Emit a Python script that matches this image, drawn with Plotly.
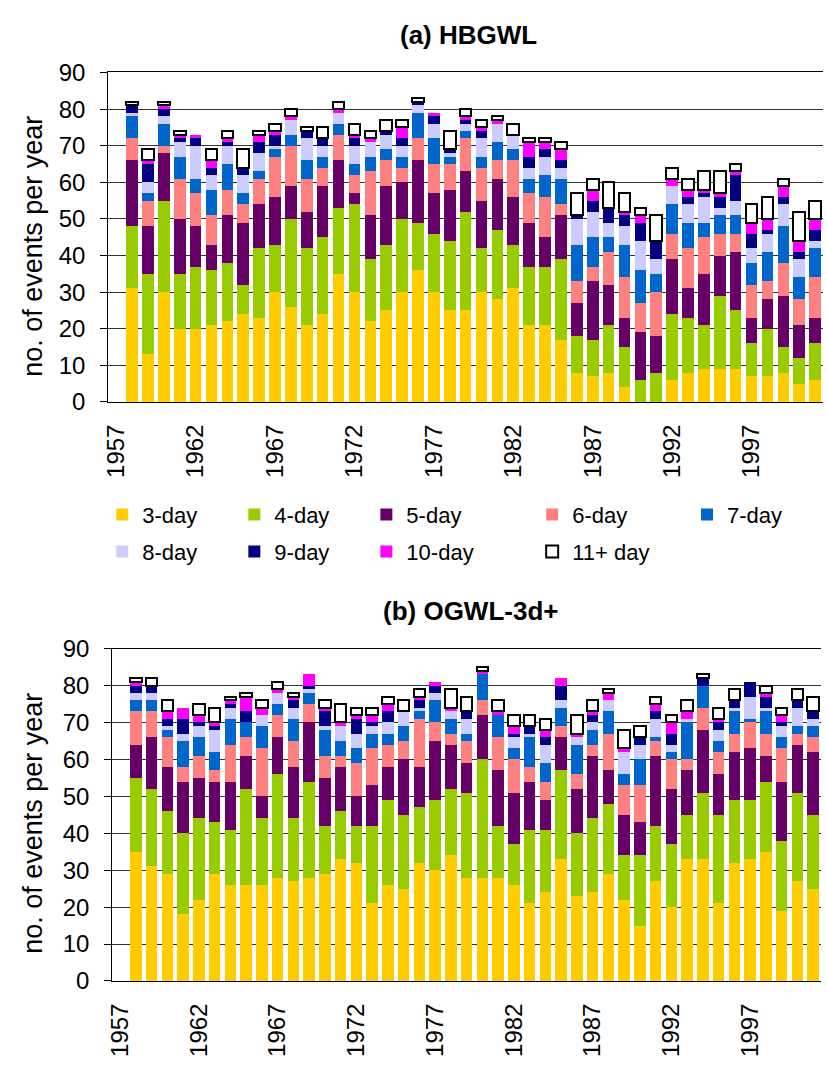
import plotly.graph_objects as go

# ---- categories -------------------------------------------------------------
years = list(range(1958, 2002))          # bars; the 1957 slot stays empty
tick_years = [1957, 1962, 1967, 1972, 1977, 1982, 1987, 1992, 1997]
y_ticks = list(range(0, 91, 10))

series_names = ["3-day", "4-day", "5-day", "6-day", "7-day",
                "8-day", "9-day", "10-day", "11+ day"]
series_colors = ["#FFCC00", "#99CC00", "#660066", "#FF8080", "#0066CC",
                 "#CCCCFF", "#000080", "#FF00FF", "#FFFFFF"]

# ---- (a) HBGWL: events per year by duration (1958-2001) ----------------------
hb_3day = [31, 13, 30, 20, 20, 21, 22, 24, 23, 30, 26, 21, 24, 35, 30, 22, 25, 30, 36, 30,
           25, 25, 30, 28, 31, 21, 21, 17, 8, 7, 8, 4, 0, 0, 6, 8, 9, 9, 9, 7, 7, 8, 5, 6]
hb_4day = [17, 22, 25, 15, 17, 15, 16, 8, 19, 13, 24, 21, 21, 18, 24, 17, 18, 20, 13, 16,
           19, 27, 12, 19, 12, 16, 16, 22, 10, 10, 13, 11, 6, 8, 18, 15, 12, 20, 16, 9, 13, 7, 7, 10]
hb_5day = [18, 13, 13, 15, 11, 7, 13, 17, 12, 13, 9, 10, 14, 13, 3, 12, 16, 10, 17, 11,
           14, 11, 13, 14, 13, 12, 8, 12, 9, 16, 11, 8, 13, 10, 15, 8, 14, 11, 16, 7, 8, 14, 9, 7]
hb_6day = [6, 7, 2, 11, 9, 8, 7, 5, 7, 11, 11, 9, 5, 7, 5, 12, 7, 4, 6, 8,
           7, 9, 9, 5, 10, 8, 11, 3, 6, 4, 9, 11, 8, 12, 7, 11, 10, 6, 5, 9, 5, 9, 7, 11]
hb_7day = [6, 2, 6, 6, 4, 7, 7, 3, 2, 2, 3, 5, 3, 3, 3, 4, 3, 3, 7, 7,
           2, 2, 3, 5, 3, 4, 6, 7, 10, 8, 4, 9, 9, 5, 8, 7, 4, 5, 5, 6, 8, 10, 6, 8]
hb_8day = [1, 3, 2, 4, 9, 4, 5, 5, 5, 1, 4, 6, 3, 3, 5, 4, 4, 3, 2, 4,
           1, 2, 5, 5, 4, 3, 5, 3, 7, 7, 4, 5, 8, 4, 5, 5, 7, 2, 4, 4, 5, 6, 5, 2]
hb_9day = [2, 5, 2, 1, 2, 2, 1, 2, 3, 3, 0, 2, 2, 0, 2, 0, 1, 2, 1, 2,
           1, 1, 2, 0, 0, 3, 2, 2, 1, 3, 4, 3, 5, 5, 0, 2, 1, 3, 7, 4, 1, 2, 2, 3]
hb_10day = [0, 1, 1, 1, 1, 2, 1, 0, 2, 1, 1, 0, 0, 1, 1, 1, 0, 3, 0, 1,
            0, 1, 1, 1, 0, 4, 2, 3, 0, 3, 0, 1, 2, 0, 2, 2, 1, 1, 1, 3, 3, 3, 3, 3]
hb_11day = [1, 3, 1, 1, 0, 3, 2, 5, 1, 2, 2, 1, 3, 2, 3, 2, 3, 2, 1, 0,
            5, 2, 2, 1, 3, 1, 1, 2, 6, 3, 7, 5, 2, 7, 3, 3, 5, 6, 2, 5, 6, 2, 8, 5]

# ---- (b) OGWL-3d+: events per year by duration (1958-2001) -------------------
og_3day = [35, 31, 29, 18, 22, 29, 26, 26, 26, 28, 27, 28, 29, 33, 32, 21, 26, 25, 32, 30,
           34, 28, 28, 28, 26, 21, 24, 33, 23, 24, 29, 22, 15, 27, 20, 33, 33, 21, 32, 33, 35, 19, 27, 25]
og_4day = [20, 21, 17, 22, 22, 14, 15, 26, 18, 28, 17, 26, 13, 13, 10, 21, 23, 20, 15, 19,
           18, 23, 32, 14, 11, 20, 17, 24, 17, 20, 19, 12, 19, 15, 17, 12, 18, 24, 17, 16, 19, 19, 24, 20]
og_5day = [9, 14, 12, 14, 11, 11, 13, 9, 6, 10, 14, 16, 13, 12, 8, 11, 9, 15, 11, 16,
           12, 8, 12, 15, 14, 13, 8, 9, 12, 17, 9, 11, 9, 19, 15, 12, 17, 11, 13, 14, 7, 16, 13, 17]
og_6day = [9, 7, 8, 4, 6, 3, 10, 5, 13, 6, 7, 5, 6, 3, 9, 10, 6, 5, 13, 5,
           3, 6, 4, 9, 9, 4, 5, 3, 4, 3, 10, 8, 10, 4, 8, 3, 6, 6, 5, 7, 6, 9, 3, 4]
og_7day = [3, 3, 2, 7, 5, 5, 7, 4, 6, 3, 6, 3, 7, 4, 4, 4, 3, 4, 2, 6,
           4, 2, 7, 6, 3, 8, 5, 5, 8, 4, 6, 3, 7, 1, 2, 10, 6, 3, 6, 1, 6, 3, 2, 3]
og_8day = [2, 2, 1, 2, 3, 6, 3, 0, 3, 3, 3, 1, 1, 4, 4, 2, 3, 4, 1, 2,
           2, 4, 0, 0, 3, 1, 5, 2, 2, 2, 3, 6, 4, 5, 2, 1, 0, 3, 1, 6, 1, 3, 5, 2]
og_9day = [2, 2, 2, 4, 1, 1, 1, 3, 0, 0, 2, 1, 4, 0, 4, 1, 3, 0, 2, 2,
           0, 2, 0, 0, 1, 2, 2, 4, 0, 2, 0, 0, 2, 2, 3, 0, 2, 2, 2, 4, 3, 1, 2, 2]
og_10day = [1, 0, 2, 3, 2, 1, 1, 4, 2, 1, 1, 3, 1, 1, 1, 2, 2, 0, 1, 1,
            1, 0, 1, 1, 2, 0, 2, 2, 1, 1, 2, 1, 0, 2, 3, 2, 0, 1, 0, 0, 1, 2, 0, 0]
og_11day = [1, 2, 3, 0, 3, 4, 1, 1, 2, 2, 1, 0, 2, 5, 2, 2, 2, 3, 2, 0,
            5, 4, 1, 3, 3, 3, 3, 0, 5, 3, 1, 5, 3, 2, 2, 3, 1, 3, 3, 0, 2, 2, 3, 4]

hb_series = [hb_3day, hb_4day, hb_5day, hb_6day, hb_7day, hb_8day, hb_9day, hb_10day, hb_11day]
og_series = [og_3day, og_4day, og_5day, og_6day, og_7day, og_8day, og_9day, og_10day, og_11day]

# ---- figure geometry (pixels of a 827 x 1070 page) ----------------------------
W, H = 827, 1070
FONT = "Liberation Sans, Arial, sans-serif"

# legend key grid: 5 columns x 2 rows, column widths follow their widest label
key_cols = [97, 230, 363, 530, 686]
key_rows = [492, 530]


def px_x(p):
    return p / W


def px_y(p):
    return 1 - p / H


def legend_id(k):
    return "legend" if k == 0 else f"legend{k + 1}"


fig = go.Figure()

for panel, (series, xa, ya) in enumerate([(hb_series, "x", "y"), (og_series, "x2", "y2")]):
    for k, (name, color, vals) in enumerate(zip(series_names, series_colors, series)):
        is_open = name == "11+ day"
        yvals = [v if (v or not is_open) else None for v in vals]
        fig.add_trace(go.Bar(
            x=years, y=yvals, name=name,
            xaxis=xa, yaxis=ya,
            marker=dict(color=color,
                        line=dict(color="#000000", width=2 if is_open else 0)),
            showlegend=(panel == 0),
            legend=legend_id(k),
            hoverinfo="x+y+name",
        ))

common_x = dict(
    range=[1956.5, 2001.5], tickmode="array", tickvals=tick_years,
    ticktext=[str(t) for t in tick_years], tickangle=-90,
    tickfont=dict(family=FONT, size=24, color="#000000"),
    showline=True, linecolor="#000000", linewidth=1, mirror=True,
    showgrid=False, zeroline=False, ticks="", ticklabelstandoff=12,
)
common_y = dict(
    range=[0, 90], tickmode="array", tickvals=y_ticks,
    tickfont=dict(family=FONT, size=24, color="#000000"),
    showline=True, linecolor="#000000", linewidth=1,
    showgrid=True, gridcolor="#333333", gridwidth=1, zeroline=False,
    ticks="outside", ticklen=7, tickcolor="#000000", tickwidth=1,
    ticklabelstandoff=10,
)

legends = {}
for k in range(len(series_names)):
    row, col = divmod(k, 5)
    legends[legend_id(k)] = dict(
        x=px_x(key_cols[col]), y=px_y(key_rows[row]),
        xanchor="left", yanchor="top", orientation="h",
        font=dict(family=FONT, size=22, color="#000000"),
        bgcolor="rgba(0,0,0,0)",
    )


def note(text, x, y, size, angle=0):
    return dict(text=text, x=px_x(x), y=px_y(y), xref="paper", yref="paper",
                xanchor="center", yanchor="middle", showarrow=False, textangle=angle,
                font=dict(family=FONT, size=size, color="#000000"))


fig.update_layout(
    width=W, height=H,
    margin=dict(l=0, r=0, t=0, b=0),
    paper_bgcolor="#FFFFFF", plot_bgcolor="#FFFFFF",
    barmode="stack", bargap=0.27,
    font=dict(family=FONT, color="#000000"),
    xaxis=dict(domain=[px_x(103), px_x(823)], anchor="y", **common_x),
    yaxis=dict(domain=[px_y(398), px_y(60)], anchor="x", **common_y),
    xaxis2=dict(domain=[px_x(107), px_x(821)], anchor="y2", **common_x),
    yaxis2=dict(domain=[px_y(992), px_y(651)], anchor="x2", **common_y),
    annotations=[
        note("<b>(a) HBGWL</b>", 466, 22, 26),
        note("<b>(b) OGWL-3d+</b>", 468, 612, 26),
        note("no. of events per year", 27, 238, 27, -90),
        note("no. of events per year", 27, 830, 27, -90),
    ],
    **legends,
)

fig.write_html("out.html")
